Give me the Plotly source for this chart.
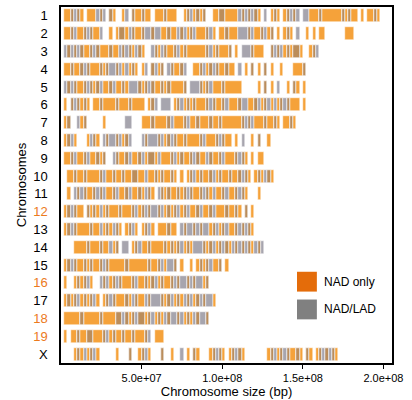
import plotly.graph_objects as go

# Chromosome rows, top to bottom
chromosomes = ["1", "2", "3", "4", "5", "6", "7", "8", "9", "10",
               "11", "12", "13", "14", "15", "16", "17", "18", "19", "X"]
# Chromosome labels printed in orange
highlighted = ["12", "16", "18", "19"]

# Tick positions (bp) and their labels on the size axis
size_ticks = [5.0e7, 1.0e8, 1.5e8, 2.0e8]
size_tick_labels = ["5.0e+07", "1.0e+08", "1.5e+08", "2.0e+08"]

# Domain calls along each chromosome in 2 Mb bins (whitespace ignored):
#   o = NAD only, g = NAD/LAD, m = both classes in the bin, . = none
BIN_BP = 2_000_000
domain_calls = {
    "1":  ". oomgmo . ooo gmg . mo .. og.m oomoo . ooomooo .. omgomom .. oommoo oo gmgmgm o.g. omo. omgmg. gg ooomooooo omomo o.o. oomo",
    "2":  ". oomgoomgmoog ..o. ommogmoom ggmgg oomoo gmgomgoo omgo. oomo oo gggmg oomgom . o. omo . g .. o.o.oo ...... ooo",
    "3":  ". gmgmgm oo mgmo oomoo gmg mogmo .. gmogm oom gomo oooo omgomooom . o. gggm ooo .. mgmgom ommo .. omg",
    "4":  ". oomoomgmooomomg gmgog omo . og . mg om . gmo omg .. oomgomgmoomo o.g.o.m.o.m.o .. o ... ooo m",
    "5":  ". gmgmoomgmomg oomgoomo gggm omgmoom omoo oom . gggm omgo oomoo ooo ..... o.m.o.g..o.mo.o",
    "6":  ". o . mgmomo . oomoooomooomoooo . omg . ggg . omgomom oo omgmoomgo oom gg oomgo mgo gomgmo oo . o",
    "7":  ". om .. gom ..... o ...... gg ... ooomooo omgo oomgo omooom oomooo ooo mgmgo oomo omo.o omo",
    "8":  ". omgo ... og mo . gmggmgomg ... gmgggmgomgm oomooo omgo oomgmoo . o . g .. o . m .. o",
    "9":  ". oomgoomgoomom .. gmoomgoomg ommogo oomgomoomgmoogmoomgoo omgmo . o . oo",
    "10": ".. oomoomoo oomgoomoomo ommoogoomom oomo . o . omgomoomgomoom oomgmo . omo gmo",
    "11": ".. o . gmgmoomgmgo omgoomgo om ogmo . gmom oom omgmoom gmog oomgo omgmo ... o",
    "12": ". omgmoo . m omo gom ooomoo omgom gmggmg omom gomgo omgo omgo oomo omo . m . o",
    "13": ". omgmo ooomoo gom ogmo . omgo . omgo . ooomoo . gmggmgmgg omgomgo omgmgmo",
    "14": ".... oooomooomoo gom . gg . omgoom oooomom omgomo gggm omgomgmo gmgmgmogmg",
    "15": ". omgmo omom oomgmo oooomoooooomoo mgo ggm . o .. o . om omgo om . o",
    "16": ". o .. om omgo .. gmg omgmo oomgoom omgomoom gmggmgmgg om",
    "17": ". omo mgom omgo . omgmoo omogmoo gmgggm omgomo gmgomgmggo",
    "18": ". ooooomooooomoooo mmgmomgmmomg omo gmggmg omo gmggm",
    "19": ". o . oomoommooomgomoomoomooo mg . ooo",
    "X":  ".... om og omgo ..... o ... m .. omg o ... m .. o .. g . o . mo ... omgmo . omgmo ....... omgom gmo omo . mo . omgmgmo",
}

NAD_ONLY_COLOR = "#F5A23A"
NAD_LAD_COLOR = "#A7A5AE"               # NAD/LAD bins on their own
NAD_LAD_OVER = "rgba(118,116,130,0.45)"  # NAD/LAD laid over NAD-only calls
LEGEND_ORANGE = "#E46C0A"
LEGEND_GRAY = "#808080"
LABEL_ORANGE = "#EC7A1C"


def runs(calls):
    """Split a call string into (class, first_bin, n_bins) runs."""
    s = "".join(calls.split())
    out = []
    i = 0
    while i < len(s):
        j = i
        while j < len(s) and s[j] == s[i]:
            j += 1
        if s[i] != ".":
            out.append((s[i], i, j - i))
        i = j
    return out


nad_y, nad_base, nad_len = [], [], []
lad_y, lad_base, lad_len, lad_col = [], [], [], []
for chrom in chromosomes:
    for cls, start, n in runs(domain_calls[chrom]):
        if cls in "om":
            nad_y.append(chrom)
            nad_base.append(start * BIN_BP)
            nad_len.append(n * BIN_BP)
        if cls in "gm":
            lad_y.append(chrom)
            lad_base.append(start * BIN_BP)
            lad_len.append(n * BIN_BP)
            lad_col.append(NAD_LAD_COLOR if cls == "g" else NAD_LAD_OVER)

fig = go.Figure()
fig.add_trace(go.Bar(
    name="NAD only", orientation="h", y=nad_y, x=nad_len, base=nad_base,
    width=0.74, marker=dict(color=NAD_ONLY_COLOR, line=dict(color="white", width=0.5)),
    showlegend=False, hoverinfo="skip",
))
fig.add_trace(go.Bar(
    name="NAD/LAD", orientation="h", y=lad_y, x=lad_len, base=lad_base,
    width=0.74, marker=dict(color=lad_col, line=dict(color="white", width=0.5)),
    showlegend=False, hoverinfo="skip",
))

tick_text = [
    f'<span style="color:{LABEL_ORANGE}">{c}</span>' if c in highlighted else c
    for c in chromosomes
]

FONT = "Liberation Sans, Arial, Helvetica, sans-serif"

fig.update_layout(
    width=412, height=400,
    margin=dict(l=61, r=20, t=5, b=36),
    paper_bgcolor="white", plot_bgcolor="white",
    barmode="overlay", bargap=0,
    font=dict(family=FONT, color="black"),
    xaxis=dict(
        range=[0, 2.053e8],
        tickvals=size_ticks, ticktext=size_tick_labels,
        ticks="outside", ticklen=4, tickwidth=1, tickcolor="black",
        tickfont=dict(size=11),
        showline=True, linecolor="black", linewidth=1.5, mirror=True,
        showgrid=False, zeroline=False,
        title=dict(text="Chromosome size (bp)", font=dict(size=13), standoff=2),
    ),
    yaxis=dict(
        type="category", categoryorder="array", categoryarray=chromosomes,
        range=[19.5, -0.5],
        tickvals=chromosomes, ticktext=tick_text,
        ticks="", tickfont=dict(size=13), ticklabelstandoff=9,
        showline=True, linecolor="black", linewidth=1.5, mirror=True,
        showgrid=False, zeroline=False,
        title=dict(text="Chromosomes", font=dict(size=13), standoff=4),
    ),
)

# Legend keys drawn inside the plot area
legend_items = [("NAD only", LEGEND_ORANGE, 0.2006, 0.2563),
                ("NAD/LAD", LEGEND_GRAY, 0.1226, 0.1783)]
for label, color, y0, y1 in legend_items:
    fig.add_shape(type="rect", xref="paper", yref="paper",
                  x0=0.713, x1=0.773, y0=y0, y1=y1,
                  fillcolor=color, line=dict(width=0))
    fig.add_annotation(xref="paper", yref="paper", x=0.789, y=(y0 + y1) / 2,
                       text=label, showarrow=False, xanchor="left", yanchor="middle",
                       font=dict(size=12, color="black"))

fig.write_html("out.html")
